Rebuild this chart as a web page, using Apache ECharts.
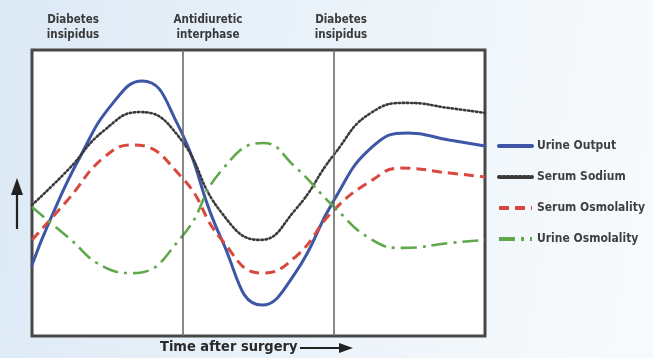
<!DOCTYPE html>
<html><head><meta charset="utf-8">
<script src="https://cdn.jsdelivr.net/npm/echarts@6/dist/echarts.min.js"></script>
<style>html,body{margin:0;padding:0;}#c{width:653px;height:358px;}</style>
</head><body><div id="c"></div>
<script>
// Time after surgery (0-100, arbitrary) vs relative level (0-100, arbitrary)
var seriesNames = ['Urine Output', 'Serum Sodium', 'Serum Osmolality', 'Urine Osmolality'];
var phaseLabels = ['Diabetes\ninsipidus', 'Antidiuretic\ninterphase', 'Diabetes\ninsipidus'];
var phaseBoundaries = [33.33, 66.67];
var urineOutput = [[0,24.8],[4.0,40.6],[10.6,62.6],[17.9,81.5],[24.3,89.2],[32.0,74.5],[41.9,33.6],[50.8,10.8],[58.1,22.0],[66.7,47.6],[75.1,66.1],[83.0,71.0],[92.1,68.5],[100,66.4]];
var serumSodium = [[0,45.8],[7.9,58.0],[16.0,72.0],[23.8,78.3],[32.0,70.5],[41.9,43.0],[50.3,33.6],[58.1,44.1],[66.7,63.5],[75.1,78.3],[83.0,81.5],[92.1,79.7],[100,78.0]];
var serumOsmolality = [[0,33.6],[7.9,47.6],[16.0,62.6],[22.3,66.8],[33.0,55.6],[41.9,33.6],[50.8,22.0],[58.1,27.6],[66.7,44.1],[75.1,54.5],[81.2,58.7],[92.1,57.0],[100,55.6]];
var urineOsmolality = [[0,45.1],[7.9,34.6],[16.0,24.1],[22.3,22.0],[33.0,34.6],[41.9,58.0],[51.0,67.5],[58.1,59.1],[66.7,45.1],[75.1,33.6],[81.9,30.8],[92.1,32.5],[100,33.6]];

var chart = echarts.init(document.getElementById('c'));
var FONT = 'DejaVu Sans Condensed';
function mkSeries(name, data, color, width, type, cap) {
  return {name: name, type: 'line', data: data, smooth: 0.5, symbol: 'none', silent: true,
    lineStyle: {color: color, width: width, type: type, cap: cap}, itemStyle: {color: color}};
}
var s = [
  mkSeries(seriesNames[0], urineOutput, '#3d56a6', 3, 'solid', 'round'),
  mkSeries(seriesNames[1], serumSodium, '#3a3a3a', 2.6, [1.5, 2.6], 'round'),
  mkSeries(seriesNames[2], serumOsmolality, '#d8483d', 3, [10, 6], 'butt'),
  mkSeries(seriesNames[3], urineOsmolality, '#5fa84b', 2.6, [16, 6, 3, 6], 'butt')
];
s.push({type: 'line', data: [], silent: true,
  markLine: {symbol: 'none', silent: true, label: {show: false},
    lineStyle: {color: '#6b6b6b', width: 1.6, type: 'solid'},
    data: phaseBoundaries.map(function (v) { return {xAxis: v}; })}});
var phaseX = [73, 208, 341];
var graphics = phaseLabels.map(function (t, i) {
  return {type: 'text', x: phaseX[i], y: 13, style: {text: t, fill: '#3a3a3a',
    font: 'bold 11.5px ' + FONT, align: 'center', textAlign: 'center', lineHeight: 15}};
});
graphics.push(
  {type: 'line', shape: {x1: 17, y1: 229, x2: 17, y2: 192}, style: {stroke: '#222', lineWidth: 2.2}},
  {type: 'polygon', shape: {points: [[17, 178], [11, 195], [23, 195]]}, style: {fill: '#222'}},
  {type: 'text', x: 160, y: 340, style: {text: 'Time after surgery', fill: '#2a2a2a', font: 'bold 14.5px ' + FONT}},
  {type: 'line', shape: {x1: 300, y1: 348, x2: 342, y2: 348}, style: {stroke: '#222', lineWidth: 1.8}},
  {type: 'polygon', shape: {points: [[353, 348], [339, 343], [339, 353]]}, style: {fill: '#222'}}
);
chart.setOption({
  animation: false,
  backgroundColor: {type: 'linear', x: 0, y: 0, x2: 1, y2: 0.3,
    colorStops: [{offset: 0, color: '#dce9f5'}, {offset: 0.6, color: '#edf4fa'}, {offset: 1, color: '#f7fafc'}]},
  grid: {left: 32, right: 168, top: 50, bottom: 22, show: true, borderColor: '#474747', borderWidth: 3, backgroundColor: '#ffffff'},
  xAxis: {type: 'value', min: 0, max: 100, show: false},
  yAxis: {type: 'value', min: 0, max: 100, show: false},
  legend: {orient: 'vertical', left: 492, top: 135, itemWidth: 33, itemHeight: 14, itemGap: 19,
    data: seriesNames, selectedMode: false,
    itemStyle: {color: 'rgba(0,0,0,0)', borderWidth: 0},
    lineStyle: {width: 4},
    textStyle: {color: '#404040', fontSize: 12, fontWeight: 'bold', fontFamily: FONT}},
  graphic: graphics,
  series: s
});
</script></body></html>
